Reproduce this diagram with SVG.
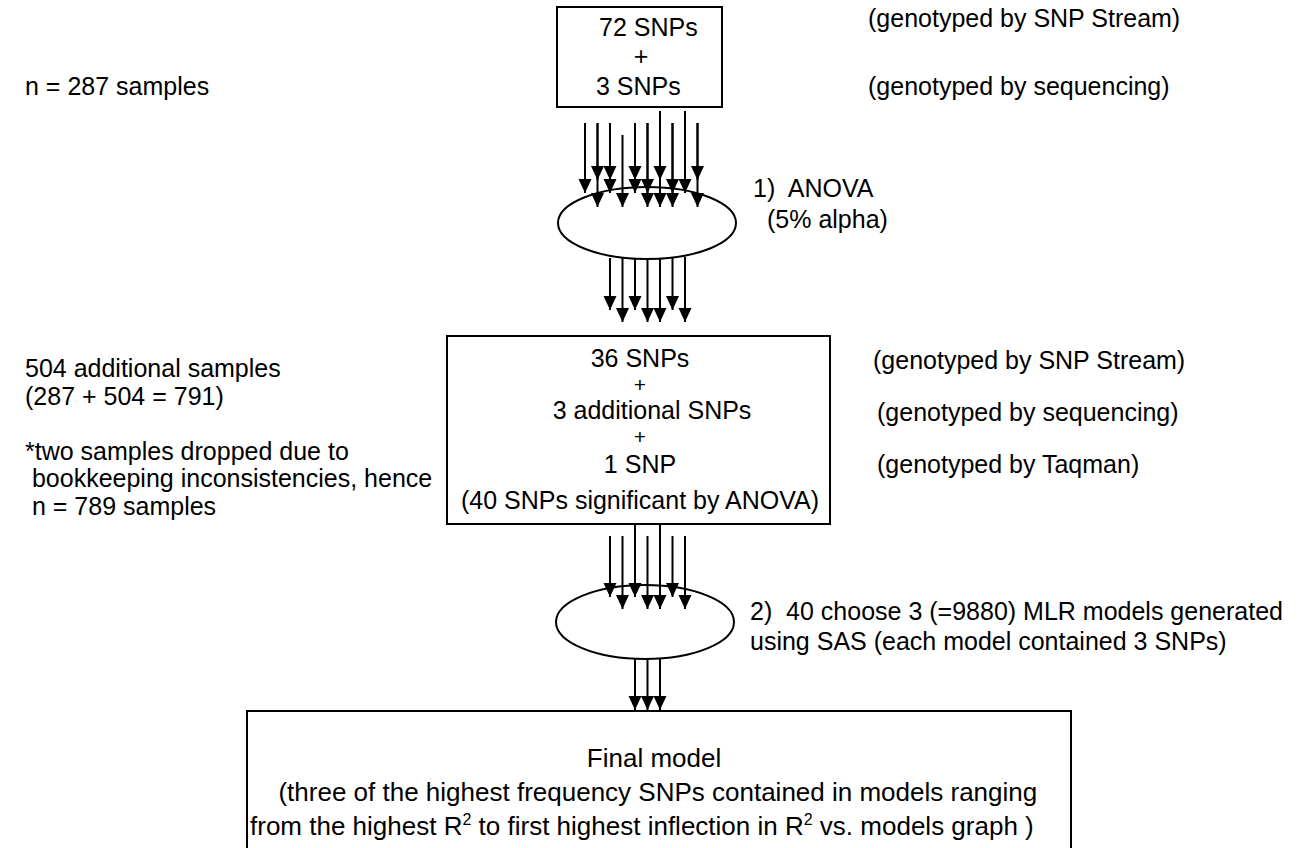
<svg xmlns="http://www.w3.org/2000/svg" width="1298" height="848" viewBox="0 0 1298 848">
<style>
text{font-family:"Liberation Sans",Arial,sans-serif;font-size:25px;fill:#000;white-space:pre}
.c{text-anchor:middle}
.big{font-size:26px}
.plus{font-size:21px}
.box{fill:#fff;stroke:#000;stroke-width:2}
.ell{fill:#fff;stroke:#000;stroke-width:2}
.ar{stroke:#000;stroke-width:2;fill:none;marker-end:url(#ah)}
</style>
<defs>
<marker id="ah" viewBox="0 0 14 14" refX="14" refY="7" markerUnits="userSpaceOnUse" markerWidth="14" markerHeight="14" orient="auto">
<path d="M0,0.5 L14,7 L0,13.5 Z" fill="#000"/>
</marker>
</defs>
<rect width="1298" height="848" fill="#fff"/>

<g id="left-notes">
<text x="25" y="95">n = 287 samples</text>
<text x="25" y="377">504 additional samples</text>
<text x="25" y="405">(287 + 504 = 791)</text>
<text x="25" y="460">*two samples dropped due to</text>
<text x="25" y="487"> bookkeeping inconsistencies, hence</text>
<text x="25" y="515"> n = 789 samples</text>
</g>

<g id="top-box">
<rect class="box" x="557" y="7" width="165" height="100"/>
<text x="599" y="36">72 SNPs</text>
<text class="c" x="641" y="65">+</text>
<text x="596" y="95">3 SNPs</text>
</g>
<g id="top-notes">
<text x="868" y="27">(genotyped by SNP Stream)</text>
<text x="868" y="95">(genotyped by sequencing)</text>
</g>

<g id="anova">
<ellipse class="ell" cx="647" cy="223" rx="89" ry="36"/>
</g>
<g id="anova-label">
<text x="753" y="197">1)  ANOVA</text>
<text x="767" y="228">(5% alpha)</text>
</g>

<g id="mid-box">
<rect class="box" x="447" y="336" width="383" height="188"/>
<text class="c" x="640" y="367">36 SNPs</text>
<text class="c plus" x="640" y="392">+</text>
<text class="c" x="652" y="419">3 additional SNPs</text>
<text class="c plus" x="640" y="444">+</text>
<text class="c" x="640" y="473">1 SNP</text>
<text class="c" x="640" y="509">(40 SNPs significant by ANOVA)</text>
</g>
<g id="mid-notes">
<text x="873" y="369">(genotyped by SNP Stream)</text>
<text x="877" y="421">(genotyped by sequencing)</text>
<text x="877" y="473">(genotyped by Taqman)</text>
</g>

<g id="mlr">
<ellipse class="ell" cx="645" cy="622" rx="89" ry="37"/>
</g>
<g id="mlr-label">
<text x="750" y="620">2)  40 choose 3 (=9880) MLR models generated</text>
<text x="750" y="650">using SAS (each model contained 3 SNPs)</text>
</g>

<g id="final-box">
<rect class="box" x="247" y="711" width="824" height="145"/>
<text class="c big" x="654" y="767">Final model</text>
<text class="big" x="264" y="801">  (three of the highest frequency SNPs contained in models ranging</text>
<text class="big" x="250" y="835">from the highest R<tspan font-size="16" dy="-10">2</tspan><tspan dy="10"> to first highest inflection in R</tspan><tspan font-size="16" dy="-10">2</tspan><tspan dy="10"> vs. models graph )</tspan></text>
</g>

<g id="connectors">
<line class="ar" x1="585" y1="123" x2="585" y2="193"/>
<line class="ar" x1="597.5" y1="123" x2="597.5" y2="180"/>
<line class="ar" x1="597.5" y1="123" x2="597.5" y2="207"/>
<line class="ar" x1="610" y1="123" x2="610" y2="180"/>
<line class="ar" x1="610" y1="123" x2="610" y2="193"/>
<line class="ar" x1="622.5" y1="135" x2="622.5" y2="207"/>
<line class="ar" x1="635" y1="123" x2="635" y2="180"/>
<line class="ar" x1="635" y1="123" x2="635" y2="193"/>
<line class="ar" x1="647.5" y1="123" x2="647.5" y2="193"/>
<line class="ar" x1="647.5" y1="123" x2="647.5" y2="207"/>
<line class="ar" x1="660" y1="111" x2="660" y2="180"/>
<line class="ar" x1="660" y1="111" x2="660" y2="207"/>
<line class="ar" x1="672.5" y1="123" x2="672.5" y2="193"/>
<line class="ar" x1="672.5" y1="123" x2="672.5" y2="207"/>
<line class="ar" x1="685" y1="111" x2="685" y2="193"/>
<line class="ar" x1="697.5" y1="123" x2="697.5" y2="180"/>
<line class="ar" x1="697.5" y1="123" x2="697.5" y2="207"/>

<line class="ar" x1="610" y1="258" x2="610" y2="310"/>
<line class="ar" x1="622.5" y1="258" x2="622.5" y2="322"/>
<line class="ar" x1="635" y1="259" x2="635" y2="310"/>
<line class="ar" x1="647.5" y1="259" x2="647.5" y2="322"/>
<line class="ar" x1="660" y1="259" x2="660" y2="322"/>
<line class="ar" x1="672.5" y1="258" x2="672.5" y2="310"/>
<line class="ar" x1="685" y1="257" x2="685" y2="322"/>

<line class="ar" x1="610" y1="536" x2="610" y2="597"/>
<line class="ar" x1="622.5" y1="536" x2="622.5" y2="609"/>
<line class="ar" x1="635" y1="524" x2="635" y2="597"/>
<line class="ar" x1="647.5" y1="536" x2="647.5" y2="609"/>
<line class="ar" x1="660" y1="524" x2="660" y2="609"/>
<line class="ar" x1="672.5" y1="536" x2="672.5" y2="597"/>
<line class="ar" x1="685" y1="536" x2="685" y2="609"/>

<line class="ar" x1="635" y1="659" x2="635" y2="710"/>
<line class="ar" x1="647.5" y1="659" x2="647.5" y2="710"/>
<line class="ar" x1="660" y1="659" x2="660" y2="710"/>
</g>
</svg>
